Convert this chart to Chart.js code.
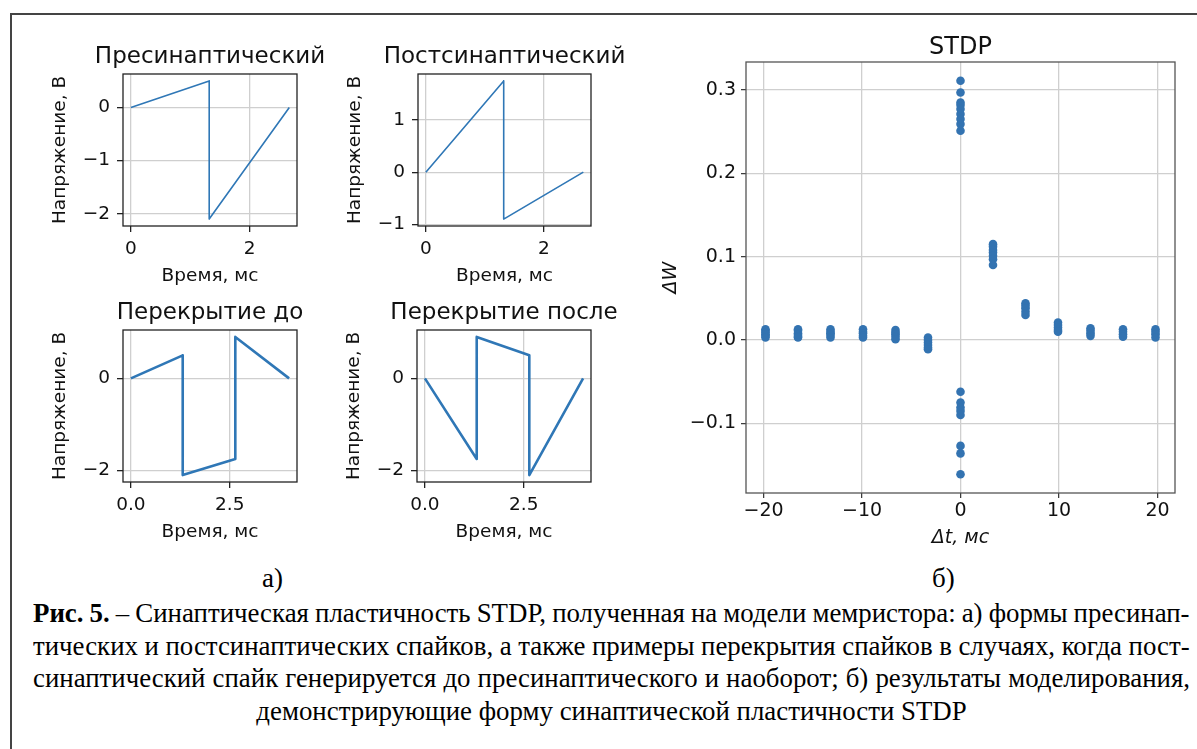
<!DOCTYPE html>
<html lang="ru">
<head>
<meta charset="utf-8">
<script src="https://cdn.jsdelivr.net/npm/chart.js@4.4.0/dist/chart.umd.min.js"></script>
<style>
  body { margin: 0; width: 1197px; height: 749px; background: #fff; overflow: hidden; position: relative; }
  #frame { position: absolute; left: 10px; top: 13px; width: 1187px; height: 740px; border-top: 2px solid #444; border-left: 2px solid #444; }
  canvas { position: absolute; }
  .serif { position: absolute; font-family: "Liberation Serif", serif; font-size: 27px; color: #000; }
  #caption { left: 33px; top: 597px; width: 1157px; line-height: 32.7px; transform-origin: 0 0; }
  #caption div { white-space: nowrap; }
  #caption .c { text-align: center; }
</style>
</head>
<body>
<div id="frame"></div>
<canvas id="pre"></canvas>
<canvas id="post"></canvas>
<canvas id="before"></canvas>
<canvas id="after"></canvas>
<canvas id="stdp"></canvas>
<div class="serif" style="left:262px; top:563px;">а)</div>
<div class="serif" style="left:932px; top:563px;">б)</div>
<div class="serif" id="caption">
  <div class="j"><span><b>Рис. 5.</b> – Синаптическая пластичность STDP, полученная на модели мемристора: а) формы пресинап-</span></div>
  <div class="j"><span>тических и постсинаптических спайков, а также примеры перекрытия спайков в случаях, когда пост-</span></div>
  <div class="j"><span>синаптический спайк генерируется до пресинаптического и наоборот; б) результаты моделирования,</span></div>
  <div class="c"><span id="lastLine">демонстрирующие форму синаптической пластичности STDP</span></div>
</div>
<script>
// формы спайков: время (мс) и напряжение (В)
const preT = [0, 1.32, 1.32, 2.67]
const preV = [0, 0.5, -2.1, 0]
const postT = [0, 1.32, 1.32, 2.67]
const postV = [0, 1.75, -0.9, 0]
const beforeT = [0, 1.31, 1.31, 2.64, 2.64, 4.0]
const beforeV = [0, 0.5, -2.1, -1.75, 0.9, 0]
const afterT = [0, 1.31, 1.31, 2.64, 2.64, 4.0]
const afterV = [0, -1.75, 0.9, 0.5, -2.1, 0]

// подписи делений
const spikeXTicksTop = [0, 2]
const spikeXTicksBottom = [0, 2.5]
const preYTicks = [-2, -1, 0]
const postYTicks = [-1, 0, 1]
const overlapYTicks = [-2, 0]
const stdpXTicks = [-20, -10, 0, 10, 20]
const stdpYTicks = [-0.1, 0.0, 0.1, 0.2, 0.3]

// STDP: задержка (мс) и изменения веса для каждой задержки
const dtValues = [-19.8, -16.5, -13.2, -9.9, -6.6, -3.3, 0, 3.3, 6.6, 9.9, 13.2, 16.5, 19.8]
const dwValues = [
    [0.013, 0.011, 0.009, 0.007, 0.005, 0.003],
    [0.013, 0.011, 0.008, 0.006, 0.004, 0.003],
    [0.013, 0.010, 0.008, 0.006, 0.003],
    [0.013, 0.010, 0.008, 0.005, 0.003],
    [0.012, 0.009, 0.007, 0.004, 0.001],
    [0.003, 0.000, -0.003, -0.006, -0.009, -0.011],
    [0.311, 0.297, 0.285, 0.282, 0.277, 0.271, 0.265, 0.259, 0.251,
     -0.062, -0.075, -0.081, -0.085, -0.090, -0.127, -0.136, -0.161],
    [0.115, 0.112, 0.108, 0.105, 0.101, 0.097, 0.090],
    [0.044, 0.041, 0.038, 0.034, 0.030],
    [0.021, 0.018, 0.015, 0.012, 0.010],
    [0.014, 0.011, 0.008, 0.005],
    [0.013, 0.010, 0.007, 0.004],
    [0.013, 0.010, 0.007, 0.003]
]

const lineColor = "#2f77b6"
const dotColor = "#3373b1"
const gridColor = "#cfcfcf"

Chart.defaults.font.family = "'DejaVu Sans'"
Chart.defaults.color = "#111"

// рамка вокруг области графика, как у matplotlib
const frame = {
    id: "frame",
    afterDraw(chart, args, o) {
        const { ctx, chartArea: a } = chart
        ctx.save()
        ctx.strokeStyle = o.color
        ctx.lineWidth = o.width
        ctx.strokeRect(a.left, a.top, a.right - a.left, a.bottom - a.top)
        ctx.restore()
    }
}

// заголовок по центру области графика (без сжатия текста)
const titulo = {
    id: "titulo",
    afterDraw(chart, args, o) {
        const { ctx, chartArea: a } = chart
        ctx.save()
        ctx.font = o.size + "px 'DejaVu Sans'"
        ctx.fillStyle = "#111"
        ctx.textAlign = "center"
        ctx.textBaseline = "alphabetic"
        ctx.fillText(o.text, (a.left + a.right) / 2, a.top - o.gap)
        ctx.restore()
    }
}

function fmt(v, d) {
    return v.toFixed(d).replace("-", "\u2212")
}

function place(id, area, m) {
    const c = document.getElementById(id)
    const w = area.r - area.l + m.l + m.r
    const h = area.b - area.t + m.t + m.b
    c.width = w
    c.height = h
    c.style.left = (area.l - m.l) + "px"
    c.style.top = (area.t - m.t) + "px"
    c.style.width = w + "px"
    c.style.height = h + "px"
    return c
}

function spikeChart(id, area, xs, ys, title, xTicks, yTicks, xr, yr, lw, xDigits) {
    const m = { l: 95, t: 50, r: 50, b: 70 }
    const wy = 72, hx = 59
    const c = place(id, area, m)
    const puntos = xs.map((x, i) => ({ x: x, y: ys[i] }))

    new Chart(c, {
        type: "scatter",
        data: {
            datasets: [{
                data: puntos,
                showLine: true,
                borderColor: lineColor,
                borderWidth: lw,
                borderJoinStyle: "round",
                pointRadius: 0
            }]
        },
        options: {
            responsive: false,
            animation: false,
            layout: { padding: { left: m.l - wy, right: m.r, top: m.t, bottom: m.b - hx } },
            plugins: {
                legend: { display: false },
                tooltip: { enabled: false },
                titulo: { text: title, size: 23, gap: 11.5 },
                frame: { color: "#222", width: 1.3 }
            },
            scales: {
                x: {
                    type: "linear", min: xr[0], max: xr[1],
                    afterFit: s => { s.height = hx },
                    afterBuildTicks: s => { s.ticks = xTicks.map(v => ({ value: v })) },
                    ticks: { font: { size: 18.5, lineHeight: 1 }, padding: 7.5, maxRotation: 0, callback: v => fmt(v, xDigits) },
                    grid: { color: gridColor, lineWidth: 1.3, tickLength: 6, tickColor: "#222", tickWidth: 1.3 },
                    border: { display: false },
                    title: { display: true, text: "Время, мс", font: { size: 18.5, lineHeight: 1 }, padding: 0 }
                },
                y: {
                    type: "linear", min: yr[0], max: yr[1],
                    afterFit: s => { s.width = wy },
                    afterBuildTicks: s => { s.ticks = yTicks.map(v => ({ value: v })) },
                    ticks: { font: { size: 18.5, lineHeight: 1 }, padding: 7, callback: v => fmt(v, 0) },
                    grid: { color: gridColor, lineWidth: 1.3, tickLength: 6, tickColor: "#222", tickWidth: 1.3 },
                    border: { display: false },
                    title: { display: true, text: "Напряжение, В", font: { size: 18.5, lineHeight: 1 }, padding: 0 }
                }
            }
        },
        plugins: [frame, titulo]
    })
}

spikeChart("pre", { l: 123, t: 74, r: 297, b: 226 }, preT, preV, "Пресинаптический",
    spikeXTicksTop, preYTicks, [-0.133, 2.8], [-2.23, 0.63], 1.6, 0)
spikeChart("post", { l: 418, t: 74, r: 591, b: 226 }, postT, postV, "Постсинаптический",
    spikeXTicksTop, postYTicks, [-0.133, 2.8], [-1.0325, 1.8825], 1.6, 0)
spikeChart("before", { l: 123, t: 330, r: 297, b: 482 }, beforeT, beforeV, "Перекрытие до",
    spikeXTicksBottom, overlapYTicks, [-0.2, 4.2], [-2.25, 1.05], 2.6, 1)
spikeChart("after", { l: 417, t: 330, r: 591, b: 482 }, afterT, afterV, "Перекрытие после",
    spikeXTicksBottom, overlapYTicks, [-0.2, 4.2], [-2.25, 1.05], 2.6, 1)

// STDP
function cargarStdp() {
    const area = { l: 746, t: 62, r: 1175, b: 493 }
    const m = { l: 105, t: 45, r: 15, b: 65 }
    const wy = 84.5, hx = 54.5
    const c = place("stdp", area, m)

    const puntos = []
    dtValues.forEach((dt, i) => {
        dwValues[i].forEach(dw => puntos.push({ x: dt, y: dw }))
    })

    new Chart(c, {
        type: "scatter",
        data: {
            datasets: [{
                data: puntos,
                backgroundColor: dotColor,
                borderWidth: 0,
                pointRadius: 4.3
            }]
        },
        options: {
            responsive: false,
            animation: false,
            layout: { padding: { left: m.l - wy, right: m.r, top: m.t, bottom: m.b - hx } },
            plugins: {
                legend: { display: false },
                tooltip: { enabled: false },
                titulo: { text: "STDP", size: 24, gap: 8 },
                frame: { color: "#555", width: 1.3 }
            },
            scales: {
                x: {
                    type: "linear", min: -21.78, max: 21.78,
                    afterFit: s => { s.height = hx },
                    afterBuildTicks: s => { s.ticks = stdpXTicks.map(v => ({ value: v })) },
                    ticks: { font: { size: 19, lineHeight: 1 }, padding: 4, maxRotation: 0, callback: v => fmt(v, 0) },
                    grid: { color: gridColor, lineWidth: 1.3, tickLength: 5, tickColor: "#333", tickWidth: 1.2 },
                    border: { display: false },
                    title: { display: true, text: "Δt, мс", font: { size: 19, style: "italic", lineHeight: 1 }, padding: 0 }
                },
                y: {
                    type: "linear", min: -0.1835, max: 0.3335,
                    afterFit: s => { s.width = wy },
                    afterBuildTicks: s => { s.ticks = stdpYTicks.map(v => ({ value: v })) },
                    ticks: { font: { size: 19, lineHeight: 1 }, padding: 5, callback: v => fmt(v, 1) },
                    grid: { color: gridColor, lineWidth: 1.3, tickLength: 5, tickColor: "#333", tickWidth: 1.2 },
                    border: { display: false },
                    title: { display: true, text: "ΔW", font: { size: 19, style: "italic", lineHeight: 1 }, padding: 0 }
                }
            }
        },
        plugins: [frame, titulo]
    })
}

cargarStdp()

// подпись: узкий шрифт как в оригинале, строки по ширине
function ajustarTexto() {
    const cap = document.getElementById("caption")
    const last = document.getElementById("lastLine")
    const k = 710 / last.offsetWidth
    const ancho = 1157 / k
    cap.style.transform = "scaleX(" + k + ")"
    cap.style.width = ancho + "px"
    cap.querySelectorAll(".j span").forEach(sp => {
        sp.style.wordSpacing = "0px"
        const espacios = sp.textContent.split(" ").length - 1
        sp.style.wordSpacing = ((ancho - sp.offsetWidth) / espacios) + "px"
    })
}

ajustarTexto()
document.fonts.ready.then(ajustarTexto)
</script>
</body>
</html>
